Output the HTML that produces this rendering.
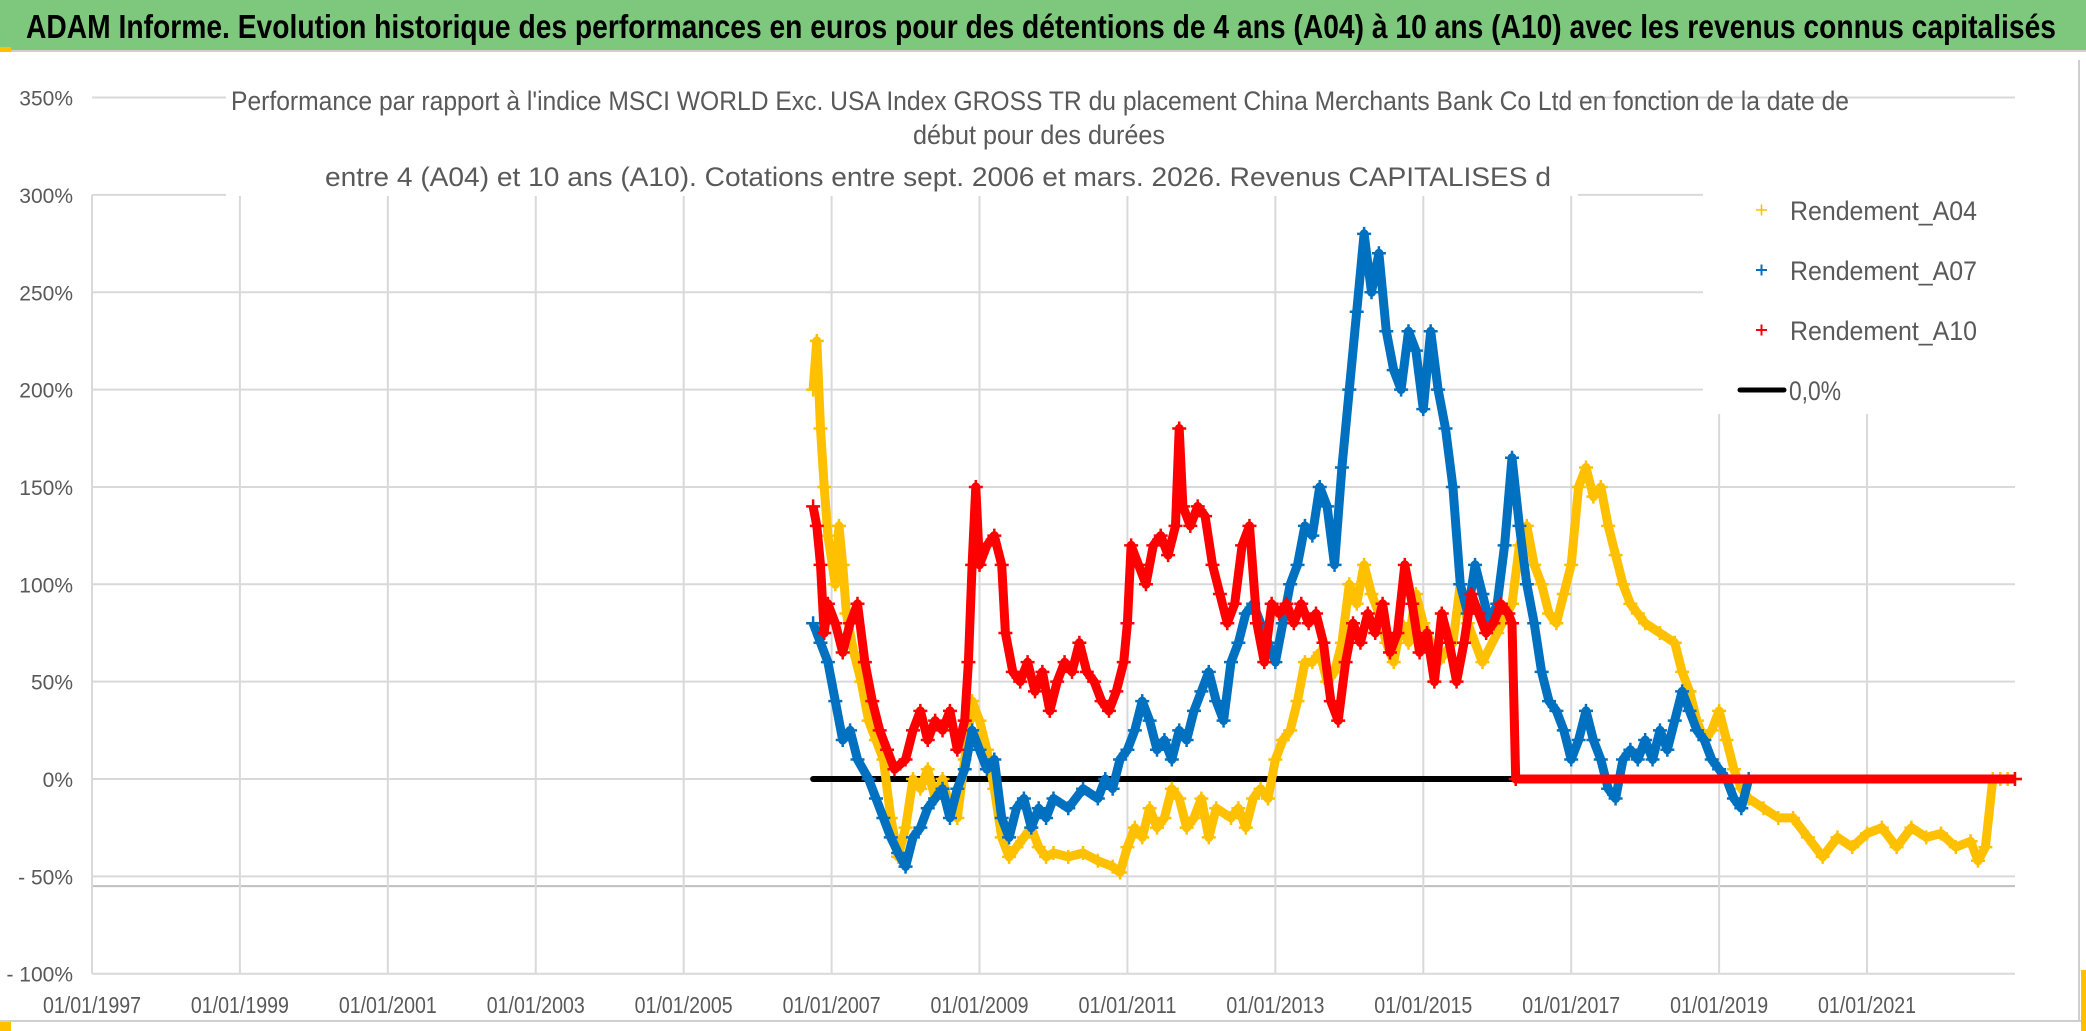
<!DOCTYPE html>
<html><head><meta charset="utf-8"><style>
html,body{margin:0;padding:0;background:#fff;}
svg{display:block;font-family:"Liberation Sans",sans-serif;}
</style></head><body>
<svg id="chart" width="2086" height="1031" viewBox="0 0 2086 1031" xmlns="http://www.w3.org/2000/svg">
<rect x="0" y="0" width="2086" height="1031" fill="#fff"/>
<rect x="0" y="0" width="2086" height="50" fill="#7dc87d"/>
<line x1="0" y1="51" x2="2086" y2="51" stroke="#cfcfcf" stroke-width="2"/>
<rect x="0" y="47" width="11" height="5" fill="#ffc000"/>
<text x="26" y="38" font-size="33" font-weight="bold" fill="#000" textLength="2030" lengthAdjust="spacingAndGlyphs">ADAM Informe. Evolution historique des performances en euros pour des détentions de 4 ans (A04) à 10 ans (A10) avec les revenus connus capitalisés</text>
<g id="grid"></g>
<g id="marks"></g>
<rect x="226" y="86" width="1352" height="110" fill="#fff"/>
<rect x="1703" y="178" width="312" height="236" fill="#fff"/>
<g fill="#595959" font-size="27">
<text x="231" y="110" textLength="1618" lengthAdjust="spacingAndGlyphs">Performance par rapport à l'indice MSCI WORLD Exc. USA Index GROSS TR  du placement China Merchants Bank Co Ltd en fonction de la date de</text>
<text x="913" y="144" textLength="252" lengthAdjust="spacingAndGlyphs">début pour des durées</text>
<text x="325" y="186" textLength="1226" lengthAdjust="spacingAndGlyphs">entre 4 (A04) et 10 ans (A10). Cotations entre sept. 2006 et mars. 2026. Revenus CAPITALISES d</text>
</g>
<g id="yaxis"></g>
<g id="xaxis"></g>
<g font-size="27" fill="#595959">
<g><path d="M1756 210h11M1761.5 204.5v11" stroke="#ffc000" stroke-width="1.6"/><text x="1790" y="220" textLength="187" lengthAdjust="spacingAndGlyphs">Rendement_A04</text></g>
<g><path d="M1756 270h11M1761.5 264.5v11" stroke="#0070c0" stroke-width="2"/><text x="1790" y="280" textLength="187" lengthAdjust="spacingAndGlyphs">Rendement_A07</text></g>
<g><path d="M1756 330h11M1761.5 324.5v11" stroke="#ff0000" stroke-width="2"/><text x="1790" y="340" textLength="187" lengthAdjust="spacingAndGlyphs">Rendement_A10</text></g>
<g><line x1="1740" y1="390" x2="1784" y2="390" stroke="#000" stroke-width="5" stroke-linecap="round"/><text x="1789" y="400" textLength="52" lengthAdjust="spacingAndGlyphs">0,0%</text></g>
</g>
<line x1="0" y1="1021" x2="2086" y2="1021" stroke="#cfcfcf" stroke-width="2"/>
<line x1="2079" y1="60" x2="2079" y2="1020" stroke="#cfcfcf" stroke-width="2"/>
<rect x="0" y="1022" width="11" height="9" fill="#ffc000"/>
<rect x="2081" y="970" width="5" height="61" fill="#ffc000"/>
</svg>
<script>
const yTicks = [350, 300, 250, 200, 150, 100, 50, 0, -50, -100];
const yTickLabels = ["350%","300%","250%","200%","150%","100%","50%","0%","- 50%","- 100%"];
const xTickYears = [1997,1999,2001,2003,2005,2007,2009,2011,2013,2015,2017,2019,2021];
const xTickLabels = ["01/01/1997","01/01/1999","01/01/2001","01/01/2003","01/01/2005","01/01/2007","01/01/2009","01/01/2011","01/01/2013","01/01/2015","01/01/2017","01/01/2019","01/01/2021"];
const zeroLineRange = [2006.75, 2016.2];
const a04Years = [2006.75,2006.8,2006.85,2006.9,2006.95,2007.05,2007.1,2007.15,2007.2,2007.3,2007.4,2007.5,2007.6,2007.7,2007.8,2007.9,2008.0,2008.1,2008.2,2008.3,2008.4,2008.5,2008.6,2008.7,2008.8,2008.9,2009.0,2009.1,2009.2,2009.3,2009.4,2009.5,2009.6,2009.7,2009.8,2009.9,2010.0,2010.2,2010.4,2010.6,2010.8,2010.9,2011.0,2011.1,2011.2,2011.3,2011.4,2011.5,2011.6,2011.7,2011.8,2011.9,2012.0,2012.1,2012.2,2012.4,2012.5,2012.6,2012.7,2012.8,2012.9,2013.0,2013.1,2013.2,2013.3,2013.4,2013.5,2013.6,2013.7,2013.8,2013.9,2014.0,2014.1,2014.2,2014.3,2014.4,2014.5,2014.6,2014.7,2014.8,2014.9,2015.0,2015.2,2015.4,2015.5,2015.6,2015.8,2016.0,2016.2,2016.3,2016.4,2016.5,2016.6,2016.7,2016.8,2016.9,2017.0,2017.1,2017.2,2017.3,2017.4,2017.5,2017.6,2017.7,2017.8,2017.9,2018.0,2018.2,2018.4,2018.5,2018.6,2018.7,2018.8,2018.9,2019.0,2019.1,2019.2,2019.3,2019.4,2019.6,2019.8,2020.0,2020.2,2020.4,2020.6,2020.8,2021.0,2021.2,2021.4,2021.6,2021.8,2022.0,2022.2,2022.4,2022.5,2022.6,2022.7,2022.8,2022.9,2023.0];
const a04Values = [200,225,180,150,125,100,130,110,85,65,50,30,20,10,-20,-40,-25,0,-5,5,-10,0,-15,-20,10,40,30,15,-5,-30,-40,-35,-30,-25,-35,-40,-38,-40,-38,-42,-45,-48,-35,-25,-30,-15,-25,-20,-5,-10,-25,-20,-10,-30,-15,-20,-15,-25,-10,-5,-10,10,20,25,40,60,60,65,50,55,70,100,90,110,95,85,70,60,80,70,95,80,60,70,100,80,60,75,90,120,130,110,100,85,80,95,110,150,160,145,150,130,115,100,90,85,80,75,70,55,45,30,20,25,35,20,5,-5,-10,-15,-20,-20,-30,-40,-30,-35,-28,-25,-35,-25,-30,-28,-35,-32,-42,-35,0,0,0,0];
const a07Years = [2006.75,2006.85,2006.95,2007.05,2007.15,2007.25,2007.35,2007.5,2007.6,2007.7,2007.8,2007.9,2008.0,2008.1,2008.2,2008.3,2008.4,2008.5,2008.6,2008.7,2008.8,2008.9,2009.0,2009.1,2009.2,2009.3,2009.4,2009.5,2009.6,2009.7,2009.8,2009.9,2010.0,2010.2,2010.4,2010.6,2010.7,2010.8,2010.9,2011.0,2011.1,2011.2,2011.3,2011.4,2011.5,2011.6,2011.7,2011.8,2011.9,2012.0,2012.1,2012.2,2012.3,2012.4,2012.5,2012.6,2012.7,2012.8,2012.9,2013.0,2013.1,2013.2,2013.3,2013.4,2013.5,2013.6,2013.7,2013.8,2013.9,2014.0,2014.1,2014.2,2014.3,2014.4,2014.5,2014.6,2014.7,2014.8,2014.9,2015.0,2015.1,2015.2,2015.3,2015.4,2015.5,2015.6,2015.7,2015.8,2015.9,2016.0,2016.1,2016.2,2016.3,2016.4,2016.5,2016.6,2016.7,2016.8,2016.9,2017.0,2017.1,2017.2,2017.3,2017.4,2017.5,2017.6,2017.7,2017.8,2017.9,2018.0,2018.1,2018.2,2018.3,2018.4,2018.5,2018.6,2018.7,2018.8,2018.9,2019.0,2019.1,2019.2,2019.3,2019.4];
const a07Values = [80,70,60,40,20,25,10,0,-10,-20,-30,-38,-45,-30,-25,-15,-10,-5,-20,-5,5,25,15,5,10,-20,-30,-15,-10,-25,-15,-20,-10,-15,-5,-10,0,-5,10,15,25,40,30,15,20,10,25,20,35,45,55,40,30,60,70,85,90,80,70,60,80,100,110,130,125,150,140,110,160,200,240,280,250,270,230,210,200,230,220,190,230,200,180,150,100,85,110,95,80,90,120,165,130,100,80,55,40,35,25,10,20,35,20,10,-5,-10,10,15,10,20,10,25,15,30,45,35,25,20,10,5,0,-10,-15,0];
const a10Years = [2006.75,2006.8,2006.85,2006.9,2006.95,2007.05,2007.15,2007.25,2007.35,2007.45,2007.55,2007.65,2007.75,2007.85,2008.0,2008.1,2008.2,2008.3,2008.4,2008.5,2008.6,2008.7,2008.8,2008.85,2008.9,2008.95,2009.0,2009.1,2009.2,2009.3,2009.35,2009.45,2009.55,2009.65,2009.75,2009.85,2009.95,2010.05,2010.15,2010.25,2010.35,2010.45,2010.55,2010.65,2010.75,2010.85,2010.95,2011.0,2011.05,2011.15,2011.25,2011.35,2011.45,2011.55,2011.65,2011.7,2011.75,2011.85,2011.95,2012.05,2012.15,2012.25,2012.35,2012.45,2012.55,2012.65,2012.75,2012.85,2012.95,2013.05,2013.15,2013.25,2013.35,2013.45,2013.55,2013.65,2013.75,2013.85,2013.95,2014.05,2014.15,2014.25,2014.35,2014.45,2014.55,2014.65,2014.75,2014.85,2014.95,2015.05,2015.15,2015.25,2015.35,2015.45,2015.55,2015.65,2015.75,2015.85,2015.95,2016.05,2016.15,2016.2,2016.25,2023.0];
const a10Values = [140,130,110,75,90,80,65,80,90,60,40,25,15,5,10,25,35,20,30,25,35,15,30,60,110,150,110,120,125,110,75,55,50,60,45,55,35,50,60,55,70,55,50,40,35,45,60,80,120,110,100,120,125,115,130,180,140,130,140,135,110,95,80,90,120,130,80,60,90,85,90,80,90,80,85,70,40,30,60,80,70,85,75,90,65,75,110,90,65,75,50,85,70,50,70,95,85,75,80,90,85,80,0,0];

const X0 = 92, PX_PER_YEAR = 73.96, Y0 = 779, PX_PER_PCT = 1.947;
const LEFT = 92, RIGHT = 2015;
function xs(yr){ return X0 + (yr - 1997) * PX_PER_YEAR; }
function ys(v){ return Y0 - v * PX_PER_PCT; }
const NS = "http://www.w3.org/2000/svg";
function mk(tag, attrs, parent){ const e = document.createElementNS(NS, tag); for (const k in attrs) e.setAttribute(k, attrs[k]); parent.appendChild(e); return e; }

const grid = document.getElementById('grid');
yTicks.forEach(v => {
  const ln = mk('line', {x1: LEFT, x2: RIGHT, y1: ys(v), y2: ys(v), stroke: '#d9d9d9', 'stroke-width': 2}, grid);
  
  
});
const extra = mk('line', {x1: LEFT, x2: RIGHT, y1: ys(-55), y2: ys(-55), stroke: '#bfbfbf', 'stroke-width': 2}, grid);


xTickYears.forEach(yr => {
  const ln = mk('line', {x1: xs(yr), x2: xs(yr), y1: ys(300), y2: ys(-100), stroke: '#d9d9d9', 'stroke-width': 2}, grid);
  
  
});

const yaxis = document.getElementById('yaxis');
yTicks.forEach((v, i) => {
  const t = mk('text', {x: 73, y: ys(v) + 8, 'text-anchor': 'end', 'font-size': 21, fill: '#595959'}, yaxis);
  t.textContent = yTickLabels[i];
  
  
});
const xaxis = document.getElementById('xaxis');
xTickYears.forEach((yr, i) => {
  const t = mk('text', {x: xs(yr), y: 1013, 'text-anchor': 'middle', 'font-size': 23, fill: '#595959', textLength: 98, lengthAdjust: 'spacingAndGlyphs'}, xaxis);
  t.textContent = xTickLabels[i];
  
  
});

const marks = document.getElementById('marks');
const zl = mk('line', {x1: xs(zeroLineRange[0]), x2: xs(zeroLineRange[1]), y1: ys(0), y2: ys(0), stroke: '#000', 'stroke-width': 6, 'stroke-linecap': 'round'}, marks);



function drawSeries(years, values, color, name){
  const g = mk('g', {}, marks);
  
  
  const pts = years.map((y, i) => xs(y).toFixed(1) + ',' + ys(values[i]).toFixed(1)).join(' ');
  const pl = mk('polyline', {points: pts, fill: 'none', stroke: color, 'stroke-width': 9, 'stroke-linejoin': 'round'}, g);
  
  
  let d = '';
  years.forEach((y, i) => {
    const x = xs(y), yy = ys(values[i]);
    d += 'M' + (x - 7) + ' ' + yy + 'h14M' + x + ' ' + (yy - 7) + 'v14';
  });
  const p = mk('path', {d: d, stroke: color, 'stroke-width': 2.5, fill: 'none'}, g);
  
  
}
drawSeries(a04Years, a04Values, '#ffc000', 'series-a04');
drawSeries(a07Years, a07Values, '#0070c0', 'series-a07');
drawSeries(a10Years, a10Values, '#ff0000', 'series-a10');
</script>
</body></html>
